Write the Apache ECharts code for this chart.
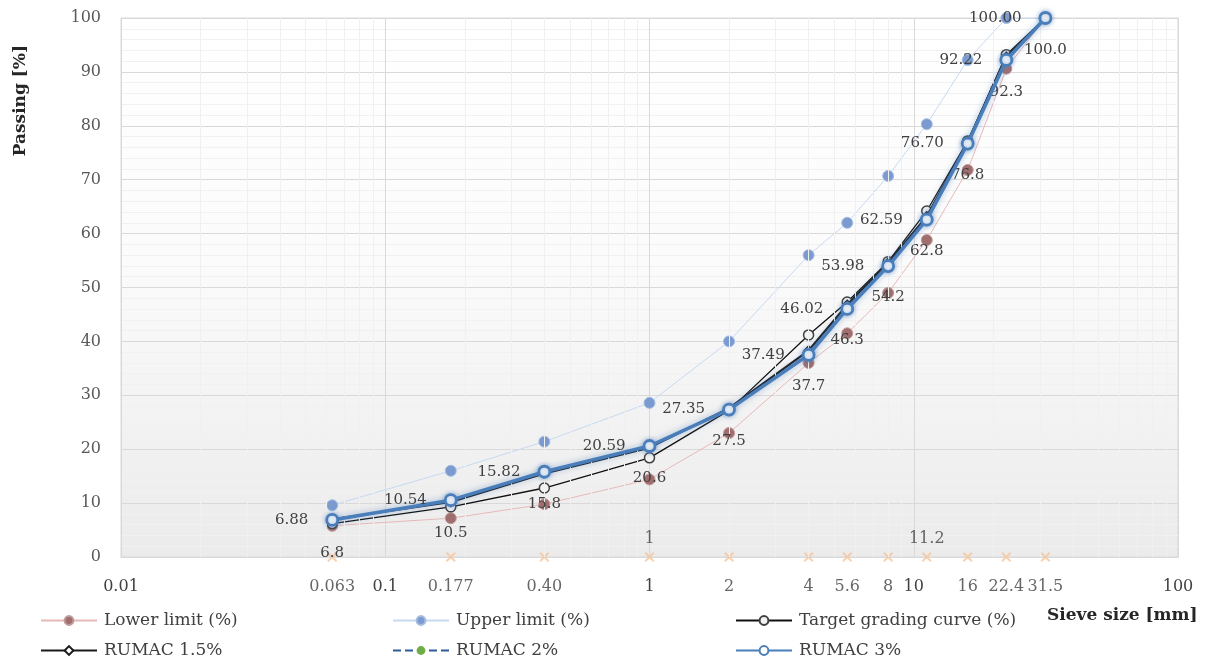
<!DOCTYPE html>
<html><head><meta charset="utf-8">
<script src="https://cdn.jsdelivr.net/npm/echarts@6/dist/echarts.min.js"></script>
<style>html,body{margin:0;padding:0;background:#fff}#c{width:1214px;height:669px}</style>
</head><body><div id="c"></div>
<script>
// ---- data ----
const sieveSizes  = [0.063, 0.177, 0.40, 1, 2, 4, 5.6, 8, 11.2, 16, 22.4, 31.5];
const sieveLabels = ['0.063','0.177','0.40','1','2','4','5.6','8','11.2','16','22.4','31.5'];
const lowerLimit  = [5.8, 7.2, 9.8, 14.4, 23.0, 36.0, 41.5, 49.0, 58.8, 71.8, 90.6, 100];
const upperLimit  = [9.6, 16.0, 21.4, 28.6, 40.0, 56.0, 62.0, 70.7, 80.3, 92.2, 100, 100];
const targetCurve = [6.2, 9.3, 12.8, 18.4, 27.2, 41.2, 47.3, 54.8, 64.2, 77.2, 93.2, 100];
const rumac15     = [7.0, 10.2, 15.5, 20.3, 27.6, 38.3, 46.8, 54.6, 63.2, 77.0, 92.8, 100];
const rumac2      = [6.8, 10.5, 15.8, 20.6, 27.5, 37.7, 46.3, 54.2, 62.8, 76.8, 92.3, 100.0];
const rumac3      = [6.88, 10.54, 15.82, 20.59, 27.35, 37.49, 46.02, 53.98, 62.59, 76.70, 92.22, 100.00];
const xDecades    = [0.01, 0.1, 1, 10, 100];
const aboveAxisLabels = ['1', '11.2'];

const FONT = 'DejaVu Serif';
const pair = arr => sieveSizes.map((x, i) => [x, arr[i]]);

// minor vertical grid (2..9 within each decade)
const minorX = [];
for (let k = 0; k < xDecades.length - 1; k++) for (let d = 2; d <= 9; d++) minorX.push(+(xDecades[k] * d).toPrecision(3));

const chart = echarts.init(document.getElementById('c'), null, {renderer: 'canvas'});
const labelBase = {fontFamily: FONT, color: '#404040'};

const option = {
  animation: false,
  backgroundColor: '#fff',
  grid: {
    left: 121, right: 36, top: 18, bottom: 112, show: true,
    borderColor: '#d9d9d9', borderWidth: 1,
    backgroundColor: {type: 'linear', x: 0, y: 0, x2: 0, y2: 1,
      colorStops: [{offset: 0, color: '#ffffff'}, {offset: 0.45, color: '#fbfbfb'}, {offset: 1, color: '#ebebeb'}]}
  },
  xAxis: {
    type: 'log', logBase: 10, min: 0.01, max: 100,
    axisLine: {show: true, lineStyle: {color: '#d9d9d9'}},
    axisTick: {show: false},
    axisLabel: {fontFamily: FONT, fontSize: 16, color: '#404040', margin: 22,
      formatter: v => xDecades.map(String).find(s => Math.abs(+s - v) < v * 1e-6) || ''},
    splitLine: {show: true, lineStyle: {color: '#d9d9d9', width: 1}}
  },
  yAxis: {
    type: 'value', min: 0, max: 100, interval: 10,
    axisLine: {show: false}, axisTick: {show: false},
    axisLabel: {fontFamily: FONT, fontSize: 16, color: '#595959', margin: 20},
    splitLine: {show: true, lineStyle: {color: '#d9d9d9', width: 1}},
    minorTick: {show: false, splitNumber: 5},
    minorSplitLine: {show: true, lineStyle: {color: '#f1f1f1', width: 1}}
  },
  legend: [
    {name: 'Lower limit (%)', left: 40, top: 612},
    {name: 'Upper limit (%)', left: 392, top: 612},
    {name: 'Target grading curve (%)', left: 735, top: 612},
    {name: 'RUMAC 1.5%', left: 40, top: 642},
    {name: 'RUMAC 2%', left: 392, top: 642},
    {name: 'RUMAC 3%', left: 735, top: 642}
  ].map(l => ({data: [l.name], left: l.left, top: l.top, padding: 0, itemWidth: 56, itemHeight: 11,
    itemGap: 0, selectedMode: false,
    textStyle: {fontFamily: FONT, fontSize: 17, color: '#404040', padding: [0, 0, 0, 2]}})),
  graphic: [
    {type: 'text', left: 12, top: 45, rotation: Math.PI / 2,
      style: {text: 'Passing [%]', fontFamily: FONT, fontSize: 17, fontWeight: 'bold', fill: '#262626'}},
    {type: 'text', left: 1047, top: 607,
      style: {text: 'Sieve size [mm]', fontFamily: FONT, fontSize: 17, fontWeight: 'bold', fill: '#262626'}}
  ],
  series: [
    {
      name: 'sieve', type: 'scatter', z: 1,
      symbol: 'path://M0,1.4L1.4,0L5,3.6L8.6,0L10,1.4L6.4,5L10,8.6L8.6,10L5,6.4L1.4,10L0,8.6L3.6,5Z',
      symbolSize: 10, itemStyle: {color: '#f6c59c'},
      data: sieveSizes.map((x, i) => {
        const above = aboveAxisLabels.includes(sieveLabels[i]);
        return {value: [x, 0], name: sieveLabels[i],
          label: {show: true, position: above ? 'top' : 'bottom', distance: above ? 5 : 17,
            formatter: sieveLabels[i], fontSize: 16, ...labelBase}};
      }),
      markLine: {silent: true, symbol: 'none', label: {show: false},
        lineStyle: {color: '#f0f0f0', width: 1, type: 'solid'},
        data: minorX.map(v => ({xAxis: v}))}
    },
    {
      name: 'Lower limit (%)', type: 'line', z: 2, data: pair(lowerLimit),
      symbol: 'circle', symbolSize: 11,
      lineStyle: {color: '#e6b9b8', width: 1},
      itemStyle: {color: '#a06e6e', borderColor: '#c09a9a', borderWidth: 1}
    },
    {
      name: 'Upper limit (%)', type: 'line', z: 2, data: pair(upperLimit),
      symbol: 'circle', symbolSize: 11,
      lineStyle: {color: '#c6d9f1', width: 1},
      itemStyle: {color: '#7b9bd0', borderColor: '#a6bde2', borderWidth: 1}
    },
    {
      name: 'Target grading curve (%)', type: 'line', z: 3, data: pair(targetCurve),
      symbol: 'circle', symbolSize: 10,
      lineStyle: {color: '#111', width: 1.3},
      itemStyle: {color: '#f2f2f2', borderColor: '#404040', borderWidth: 1.5}
    },
    {
      name: 'RUMAC 1.5%', type: 'line', z: 4, data: pair(rumac15),
      symbol: 'diamond', symbolSize: 9,
      lineStyle: {color: '#1a1a1a', width: 2.2},
      itemStyle: {color: '#ffffff', borderColor: '#1a1a1a', borderWidth: 1.5}
    },
    {
      name: 'RUMAC 2%', type: 'line', z: 5, data: pair(rumac2),
      symbol: 'circle', symbolSize: 5,
      lineStyle: {color: '#2e5c9a', width: 1.5, type: 'dashed'},
      itemStyle: {color: '#70ad47', borderColor: '#70ad47'},
      label: {show: true, position: 'bottom', distance: 22, fontSize: 15, ...labelBase,
        formatter: p => p.value[1].toFixed(1)}
    },
    {
      name: 'RUMAC 3%', type: 'line', z: 6, data: pair(rumac3),
      symbol: 'circle', symbolSize: 11,
      lineStyle: {color: '#4a7ebb', width: 3.5, shadowColor: 'rgba(79,129,189,0.55)', shadowBlur: 6},
      itemStyle: {color: '#ffffff', borderColor: '#4a7ebb', borderWidth: 2.8, shadowColor: 'rgba(79,129,189,0.6)', shadowBlur: 5},
      label: {show: true, position: 'left', distance: 17, fontSize: 15, ...labelBase,
        formatter: p => p.value[1].toFixed(2)}
    }
  ]
};
chart.setOption(option);
</script></body></html>
